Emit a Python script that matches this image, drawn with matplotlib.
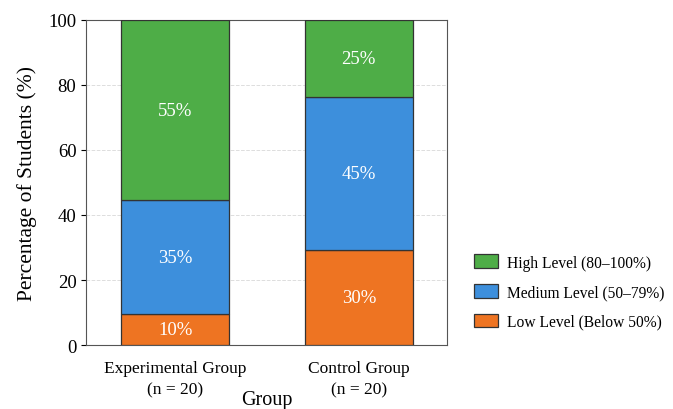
import numpy as np
import matplotlib
matplotlib.use("Agg")
import matplotlib.pyplot as plt

plt.rcParams["font.family"] = ["Liberation Serif", "DejaVu Serif"]

groups = ["Experimental Group\n(n = 20)", "Control Group\n(n = 20)"]
levels = ["Low Level (Below 50%)", "Medium Level (50–79%)", "High Level (80–100%)"]
colors = ["#ee7422", "#3d8fdc", "#4ead47"]
# segment heights as drawn, and the printed labels
low    = [9.5, 29.3]
medium = [35.0, 47.0]
high   = [55.5, 23.7]
low_lbl    = ["10%", "30%"]
medium_lbl = ["35%", "45%"]
high_lbl   = ["55%", "25%"]

fig = plt.figure(figsize=(6.73, 4.10), dpi=100)
ax = fig.add_axes([0.128, 0.156, 0.536, 0.793])

x = np.arange(len(groups))
bottom = np.zeros(len(groups))
handles = []
for vals, lbls, col, name in zip([low, medium, high], [low_lbl, medium_lbl, high_lbl], colors, levels):
    b = ax.bar(x, vals, 0.59, bottom=bottom, color=col, edgecolor="#333333",
               linewidth=0.9, label=name, zorder=3)
    for xi, v, bt, t in zip(x, vals, bottom, lbls):
        ax.text(xi, bt + v / 2, t, ha="center", va="center", color="white",
                fontsize=13.5, zorder=4)
    bottom += np.array(vals)
    handles.append(b)

ax.set_xlim(-0.485, 1.48)
ax.set_ylim(0, 100)
ax.set_yticks([0, 20, 40, 60, 80, 100])
ax.set_xticks(x)
ax.set_xticklabels(groups, fontsize=12.5, linespacing=1.4)
ax.tick_params(axis="y", labelsize=13.5)
ax.tick_params(axis="x", length=0, pad=11)
ax.yaxis.grid(True, linestyle="--", color="#dddddd", linewidth=0.7, zorder=0)
ax.set_ylabel("Percentage of Students (%)", fontsize=15.5, labelpad=8)
ax.set_xlabel("Group", fontsize=14.5, labelpad=-5)
for s in ax.spines.values():
    s.set_color("#555555")

fig.legend(handles[::-1], levels[::-1], loc="center left",
           bbox_to_anchor=(0.693, 0.285), bbox_transform=fig.transFigure,
           frameon=False, fontsize=11.2, borderpad=0, handlelength=1.5,
           handleheight=1.0, labelspacing=0.85, handletextpad=0.6)

fig.savefig("out.png", dpi=100)
